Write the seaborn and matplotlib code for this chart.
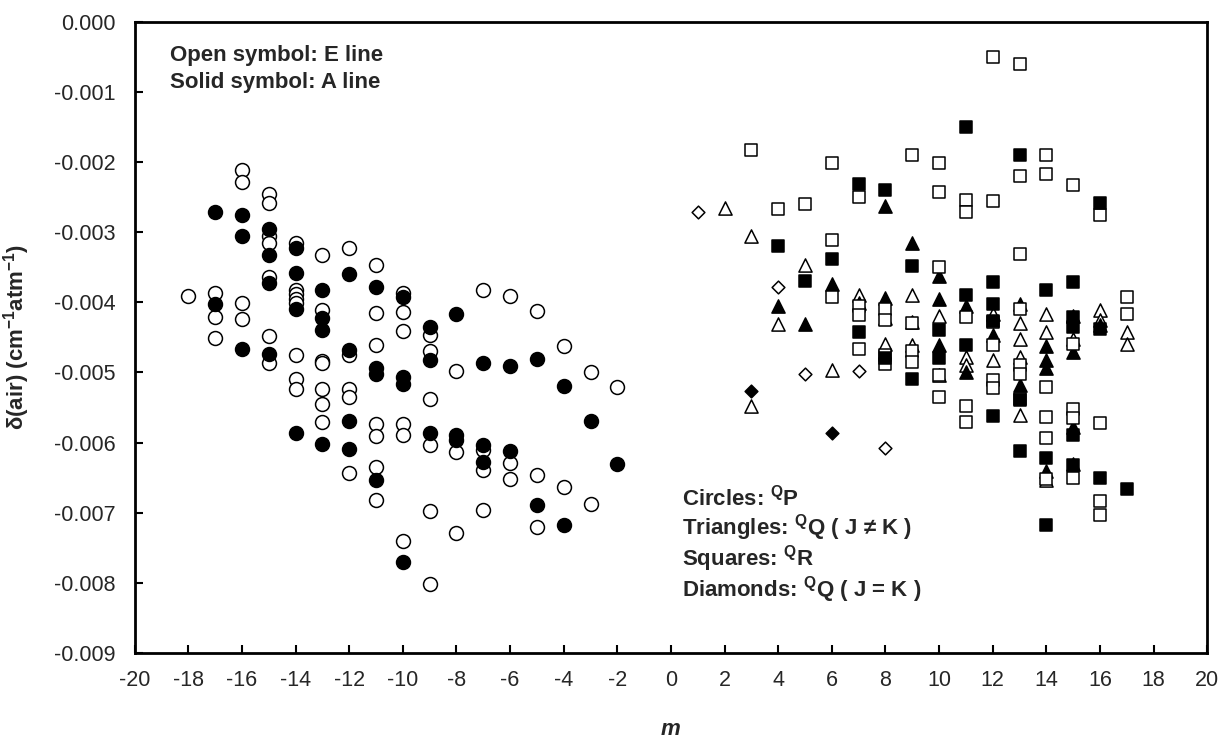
import matplotlib
matplotlib.use("Agg")
import matplotlib.pyplot as plt
import numpy as np
import pandas as pd
import seaborn as sns

# ---- data: m (x) and delta(air) (y), one pair of lists per symbol ----
# circles = QP, open = E line, solid = A line
circ_open_m = [-18,
               -17, -17, -17,
               -16, -16, -16, -16,
               -15, -15, -15, -15, -15, -15, -15,
               -14, -14, -14, -14, -14, -14, -14, -14,
               -13, -13, -13, -13, -13, -13, -13,
               -12, -12, -12, -12, -12,
               -11, -11, -11, -11, -11, -11, -11,
               -10, -10, -10, -10, -10, -10,
               -9, -9, -9, -9, -9, -9,
               -8, -8, -8,
               -7, -7, -7, -7,
               -6, -6, -6,
               -5, -5, -5,
               -4, -4,
               -3, -3,
               -2]
circ_open_d = [-0.00391,
               -0.00387, -0.00421, -0.00451,
               -0.00211, -0.00229, -0.00401, -0.00424,
               -0.00246, -0.00258, -0.00306, -0.00315, -0.00364, -0.00448, -0.00486,
               -0.00315, -0.00382, -0.00388, -0.00395, -0.00401, -0.00475, -0.00510, -0.00524,
               -0.00332, -0.00411, -0.00484, -0.00487, -0.00524, -0.00545, -0.00571,
               -0.00322, -0.00475, -0.00524, -0.00535, -0.00644,
               -0.00347, -0.00415, -0.00461, -0.00573, -0.00591, -0.00635, -0.00682,
               -0.00387, -0.00414, -0.00441, -0.00573, -0.00589, -0.00741,
               -0.00447, -0.00469, -0.00538, -0.00604, -0.00698, -0.00802,
               -0.00498, -0.00613, -0.00729,
               -0.00383, -0.00611, -0.00639, -0.00696,
               -0.00391, -0.00629, -0.00652,
               -0.00412, -0.00646, -0.00720,
               -0.00463, -0.00664,
               -0.00499, -0.00687,
               -0.00521]

circ_fill_m = [-17, -17,
               -16, -16, -16,
               -15, -15, -15, -15,
               -14, -14, -14, -14,
               -13, -13, -13, -13,
               -12, -12, -12, -12,
               -11, -11, -11, -11,
               -10, -10, -10, -10,
               -9, -9, -9,
               -8, -8, -8,
               -7, -7, -7,
               -6, -6,
               -5, -5,
               -4, -4,
               -3,
               -2]
circ_fill_d = [-0.00272, -0.00402,
               -0.00275, -0.00306, -0.00466,
               -0.00296, -0.00333, -0.00372, -0.00474,
               -0.00323, -0.00358, -0.00409, -0.00587,
               -0.00382, -0.00422, -0.00440, -0.00602,
               -0.00360, -0.00468, -0.00569, -0.00609,
               -0.00378, -0.00493, -0.00502, -0.00654,
               -0.00393, -0.00506, -0.00517, -0.00770,
               -0.00435, -0.00482, -0.00587,
               -0.00416, -0.00589, -0.00596,
               -0.00487, -0.00604, -0.00627,
               -0.00491, -0.00612,
               -0.00481, -0.00689,
               -0.00520, -0.00718,
               -0.00569,
               -0.00630]

# triangles = QQ (J != K)
tri_open_m = [2, 3, 3, 4, 5, 6, 7, 8, 8, 9, 9, 9, 10, 10, 11, 11, 12, 12,
              13, 13, 13, 13, 14, 14, 14, 15, 16, 16, 17, 17]
tri_open_d = [-0.00266, -0.00306, -0.00548, -0.00431, -0.00347, -0.00497,
              -0.00389, -0.00422, -0.00459, -0.00390, -0.00428, -0.00461,
              -0.00420, -0.00503, -0.00478, -0.00490, -0.00416, -0.00482,
              -0.00430, -0.00452, -0.00478, -0.00561, -0.00416, -0.00442,
              -0.00653, -0.00452, -0.00411, -0.00425, -0.00442, -0.00459]
tri_fill_m = [4, 5, 6, 7, 8, 8, 9, 10, 10, 10, 11, 11, 12, 13, 13,
              14, 14, 14, 14, 15, 15, 15, 15, 16]
tri_fill_d = [-0.00406, -0.00431, -0.00374, -0.00401, -0.00263, -0.00394,
              -0.00316, -0.00363, -0.00396, -0.00461, -0.00406, -0.00499,
              -0.00447, -0.00402, -0.00518, -0.00462, -0.00482, -0.00494,
              -0.00640, -0.00420, -0.00471, -0.00578, -0.00630, -0.00433]

# squares = QR
sq_open_m = [3, 4, 5, 6, 6, 6, 7, 7, 7, 7, 8, 8, 8, 8, 9, 9, 9, 9,
             10, 10, 10, 10, 10, 11, 11, 11, 11, 11, 12, 12, 12, 12, 12, 12,
             13, 13, 13, 13, 13, 13, 13, 14, 14, 14, 14, 14, 14,
             15, 15, 15, 15, 15, 16, 16, 16, 16, 17, 17]
sq_open_d = [-0.00183, -0.00267, -0.00260, -0.00202, -0.00311, -0.00392,
             -0.00250, -0.00405, -0.00418, -0.00466,
             -0.00410, -0.00425, -0.00475, -0.00488,
             -0.00190, -0.00430, -0.00470, -0.00485,
             -0.00202, -0.00243, -0.00350, -0.00503, -0.00535,
             -0.00254, -0.00271, -0.00421, -0.00548, -0.00570,
             -0.00051, -0.00255, -0.00428, -0.00461, -0.00511, -0.00522,
             -0.00060, -0.00220, -0.00331, -0.00410, -0.00490, -0.00502, -0.00538,
             -0.00190, -0.00217, -0.00521, -0.00563, -0.00593, -0.00652,
             -0.00233, -0.00459, -0.00552, -0.00565, -0.00651,
             -0.00276, -0.00572, -0.00684, -0.00703,
             -0.00392, -0.00416]
sq_fill_m = [4, 5, 6, 7, 7, 8, 8, 9, 9, 10, 10, 11, 11, 11, 12, 12, 12, 12,
             13, 13, 13, 14, 14, 14, 15, 15, 15, 15, 15, 16, 16, 16, 17]
sq_fill_d = [-0.00320, -0.00370, -0.00339, -0.00231, -0.00443, -0.00240,
             -0.00480, -0.00348, -0.00510, -0.00440, -0.00480, -0.00150,
             -0.00390, -0.00461, -0.00371, -0.00402, -0.00426, -0.00562,
             -0.00190, -0.00540, -0.00612, -0.00382, -0.00622, -0.00718,
             -0.00371, -0.00421, -0.00435, -0.00589, -0.00632,
             -0.00259, -0.00438, -0.00651, -0.00666]

# diamonds = QQ (J = K)
dia_open_m = [1, 4, 5, 7, 8]
dia_open_d = [-0.00272, -0.00378, -0.00502, -0.00498, -0.00608]
dia_fill_m = [3, 6]
dia_fill_d = [-0.00526, -0.00586]

x_ticks = list(range(-20, 21, 2))
y_ticks = [0.000, -0.001, -0.002, -0.003, -0.004, -0.005, -0.006, -0.007, -0.008, -0.009]

sns.set_style("white")
plt.rcParams['font.family'] = ['Liberation Sans', 'DejaVu Sans']
plt.rcParams['mathtext.fontset'] = 'custom'
plt.rcParams['mathtext.rm'] = 'Liberation Sans'
plt.rcParams['mathtext.bf'] = 'Liberation Sans:bold'
plt.rcParams['mathtext.it'] = 'Liberation Sans:italic'
plt.rcParams['axes.unicode_minus'] = False

fig = plt.figure(figsize=(12.25, 7.38), dpi=100)
ax = fig.add_axes([134.7 / 1225, 1 - 653 / 738, 1072.5 / 1225, 631.3 / 738])

series = [
    (circ_open_m, circ_open_d, 'o', 100, 'white'),
    (circ_fill_m, circ_fill_d, 'o', 100, 'black'),
    (tri_open_m, tri_open_d, '^', 90, 'white'),
    (tri_fill_m, tri_fill_d, '^', 90, 'black'),
    (sq_open_m, sq_open_d, 's', 85, 'white'),
    (sq_fill_m, sq_fill_d, 's', 85, 'black'),
    (dia_open_m, dia_open_d, 'D', 42, 'white'),
    (dia_fill_m, dia_fill_d, 'D', 42, 'black'),
]
for xs, ys, mk, sz, fc in series:
    sns.scatterplot(x=xs, y=ys, marker=mk, s=sz, color=fc, edgecolor='black',
                    linewidth=1.1, ax=ax, zorder=3, legend=False)

ax.set_xlim(-20, 20)
ax.set_ylim(-0.009, 0.0)
ax.set_xticks(x_ticks)
ax.set_yticks(y_ticks)
ax.set_xticklabels([str(v) for v in x_ticks])
ax.set_yticklabels([f"{v:.3f}" if v != 0 else "0.000" for v in y_ticks])
ax.tick_params(axis='both', direction='in', length=6, width=1.5, labelsize=15.5, color='black')
ax.tick_params(axis='y', pad=14)
ax.tick_params(axis='x', pad=12)
ax.tick_params(bottom=True, left=True)
for sp in ax.spines.values():
    sp.set_visible(True)
    sp.set_color('black')
    sp.set_linewidth(2.0)

ax.set_xlabel('m', fontsize=16, fontweight='bold', fontstyle='italic')
ax.xaxis.set_label_coords(0.5, -0.105)
ax.set_ylabel(r'δ(air) (cm$^{\mathbf{-1}}$atm$^{\mathbf{-1}}$)', fontsize=16, fontweight='bold')
ax.yaxis.set_label_coords(-0.096, 0.5)

ax.text(0.033, 0.947, 'Open symbol: E line', transform=ax.transAxes, fontsize=16,
        fontweight='bold', va='center', ha='left')
ax.text(0.033, 0.904, 'Solid symbol: A line', transform=ax.transAxes, fontsize=16,
        fontweight='bold', va='center', ha='left')

notes = [r'Circles: $^{\mathbf{Q}}$P',
         r'Triangles: $^{\mathbf{Q}}$Q ( J ≠ K )',
         r'Squares: $^{\mathbf{Q}}$R',
         r'Diamonds: $^{\mathbf{Q}}$Q ( J = K )']
for i, t in enumerate(notes):
    ax.text(0.510, 0.247 - i * 0.049, t, transform=ax.transAxes, fontsize=16,
            fontweight='bold', va='center', ha='left')

fig.savefig('out.png', dpi=100)
